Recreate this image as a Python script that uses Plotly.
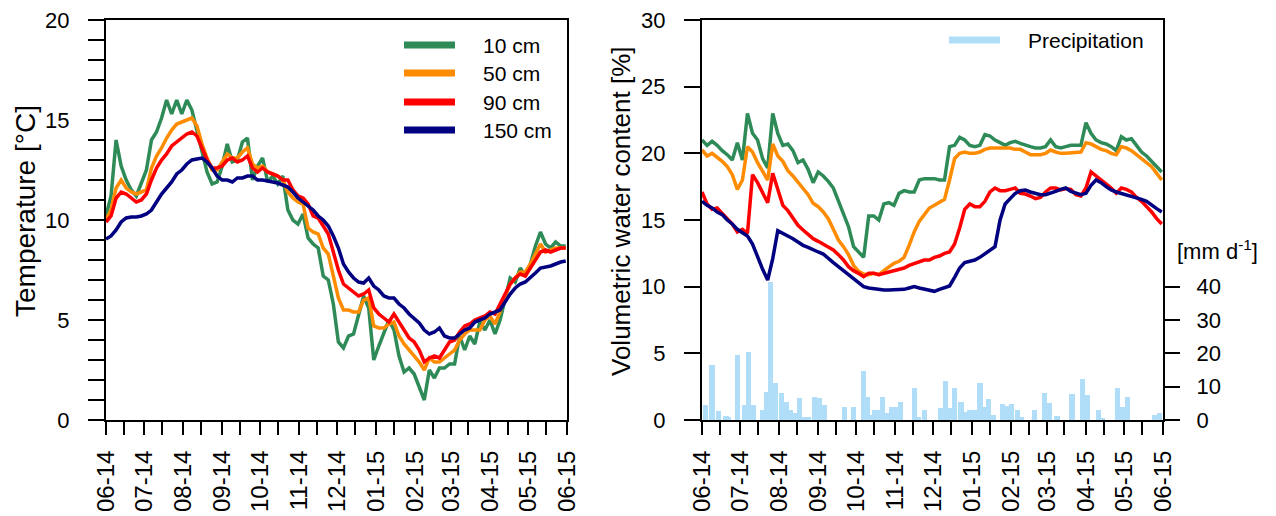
import pandas as pd
import plotly.graph_objects as go

# ---------------------------------------------------------------------------
# Data: soil temperature and volumetric water content, sampled every 4 days
# from 2014-06-01, plus daily precipitation totals.
# ---------------------------------------------------------------------------
start_date = "2014-06-01"
end_date = "2015-06-01"
sample_step = "4D"

depth_labels = ["10 cm", "50 cm", "90 cm", "150 cm"]
depth_colors = ["#2E8B57", "#FF8C00", "#FF0000", "#000080"]
precip_color = "#B0DDF8"

temp_10cm = [10.2, 11.2, 14.0, 12.7, 12.0, 11.5, 11.2, 11.9, 12.5, 14.0,
             14.4, 15.1, 16.0, 15.3, 16.0, 15.3, 16.0, 15.5, 14.5, 13.4,
             12.4, 11.8, 11.9, 12.7, 13.8, 12.9, 13.0, 13.9, 14.1, 12.0,
             12.7, 13.1, 11.9, 12.2, 11.8, 12.2, 10.5, 10.0, 9.8, 10.3,
             9.1, 8.8, 8.6, 7.2, 7.0, 5.8, 3.9, 3.6, 4.2, 4.3,
             5.3, 6.2, 5.6, 3.0, 3.7, 4.4, 5.0, 4.5, 3.2, 2.4,
             2.6, 2.3, 1.6, 1.0, 2.5, 2.1, 2.6, 2.6, 2.8, 2.8,
             4.2, 3.5, 4.2, 3.8, 4.9, 4.5, 5.0, 4.3, 5.0, 6.0,
             7.1, 6.9, 7.6, 7.2, 7.8, 8.7, 9.4, 8.8, 8.6, 8.9,
             8.7, 8.7]
temp_50cm = [10.0, 10.5, 11.6, 12.0, 11.6, 11.4, 11.3, 11.4, 11.5, 12.6,
             13.2, 13.6, 14.1, 14.5, 14.8, 14.9, 15.0, 15.1, 14.7, 13.8,
             13.1, 12.5, 12.5, 12.9, 13.3, 13.1, 13.1, 13.4, 13.6, 12.8,
             12.6, 12.7, 12.4, 12.3, 12.2, 12.0, 11.4, 11.1, 10.9, 10.8,
             9.6, 9.4, 9.3, 8.6, 8.3, 7.2, 6.1, 5.5, 5.5, 5.4,
             5.4, 6.0, 6.1, 4.7, 4.6, 4.6, 4.8, 4.9, 4.2, 3.8,
             3.5, 3.2, 2.9, 2.5, 3.1, 2.9, 2.9, 3.1, 3.3, 3.5,
             4.0, 4.3, 4.5, 4.5, 4.5, 5.0, 5.2, 4.8, 5.4, 6.2,
             6.8, 7.1, 7.4, 7.4, 7.8, 8.3, 8.8, 8.4, 8.5, 8.6,
             8.6, 8.6]
temp_90cm = [9.9, 10.2, 11.1, 11.4, 11.3, 11.1, 10.9, 11.0, 11.3, 12.0,
             12.6, 13.0, 13.3, 13.7, 13.9, 14.1, 14.3, 14.4, 14.2, 13.6,
             13.0, 12.6, 12.6, 12.7, 13.0, 13.1, 12.9, 13.0, 13.2, 12.6,
             12.4, 12.6, 12.4, 12.3, 12.2, 12.0, 12.0, 11.5, 11.2, 11.1,
             10.8, 10.2, 10.1, 9.7, 9.3, 8.4, 7.5, 6.8, 6.6, 6.4,
             6.2, 6.3, 6.5, 5.6, 5.3, 5.1, 4.9, 5.3, 4.9, 4.5,
             4.1, 3.9, 3.5, 2.9, 3.1, 3.2, 3.1, 3.5, 3.9, 4.0,
             4.4, 4.7, 4.8, 5.0, 5.1, 5.2, 5.4, 5.3, 5.8, 6.3,
             6.8, 7.1, 7.3, 7.2, 7.6, 8.0, 8.4, 8.5, 8.4, 8.5,
             8.6, 8.6]
temp_150cm = [9.05, 9.2, 9.5, 9.9, 10.1, 10.15, 10.15, 10.2, 10.3, 10.5,
              10.9, 11.3, 11.6, 11.9, 12.3, 12.5, 12.8, 13.0, 13.05, 13.1,
              12.9, 12.6, 12.2, 12.0, 12.0, 11.9, 12.1, 12.1, 12.2, 12.2,
              12.0, 12.0, 11.95, 11.9, 11.85, 11.75, 11.65, 11.4, 11.1, 10.9,
              10.7, 10.5, 10.2, 10.0, 9.7, 9.2, 8.6, 7.8, 7.4, 7.1,
              6.9, 6.85, 7.1, 6.7, 6.5, 6.2, 6.1, 6.1, 5.8, 5.6,
              5.3, 5.1, 4.85, 4.5, 4.3, 4.4, 4.6, 4.2, 4.1, 4.1,
              4.3, 4.5, 4.6, 4.9, 5.0, 5.1, 5.3, 5.4, 5.5, 5.9,
              6.3, 6.6, 6.8, 6.9, 7.1, 7.35, 7.6, 7.65, 7.7, 7.8,
              7.9, 7.95]

vwc_10cm = [21.0, 20.6, 20.9, 20.6, 20.2, 19.9, 19.5, 20.8, 19.5, 23.0,
            21.5, 21.0, 19.6, 18.9, 23.0, 21.5, 20.6, 20.7, 20.2, 19.3,
            19.5, 18.8, 17.8, 18.6, 18.3, 17.9, 17.4, 16.4, 15.4, 14.5,
            13.0, 12.6, 12.2, 15.3, 15.3, 15.0, 16.2, 16.3, 16.1, 17.0,
            17.2, 17.1, 17.1, 18.0, 18.1, 18.1, 18.1, 18.0, 18.0, 20.5,
            20.6, 21.2, 21.0, 20.6, 20.5, 20.6, 21.4, 21.3, 21.0, 20.8,
            20.6, 20.8, 20.9, 20.75, 20.6, 20.5, 20.4, 20.4, 20.5, 21.0,
            20.5, 20.4, 20.5, 20.6, 20.6, 20.6, 22.3, 21.5, 21.0, 20.8,
            20.7, 20.5, 20.2, 21.25, 21.0, 21.1, 20.6, 20.1, 19.8, 19.4,
            19.0, 18.6]
vwc_50cm = [20.25, 19.8, 20.0, 19.7, 19.4, 19.0, 18.4, 17.3, 18.0, 20.5,
            20.1, 19.3, 18.6, 18.0, 20.7, 19.8, 19.4, 18.7, 18.3, 17.8,
            17.4, 16.9, 16.25, 16.0, 15.6, 15.1, 14.3, 13.5, 13.0, 12.4,
            11.6, 11.15, 10.95, 10.9, 11.0, 10.9, 11.2, 11.5, 11.75, 11.9,
            12.2, 13.1, 14.1, 14.9, 15.4, 15.9, 16.1, 16.3, 16.55, 18.0,
            19.6, 20.0, 20.1, 20.0, 20.0, 20.1, 20.3, 20.4, 20.4, 20.4,
            20.4, 20.4, 20.3, 20.3, 20.1, 19.9, 19.9, 19.9, 20.0, 20.25,
            20.1, 20.0, 20.0, 20.05, 20.1, 20.1, 20.8, 20.7, 20.5, 20.3,
            20.2, 20.0, 19.9, 20.5, 20.4, 20.2, 19.9, 19.6, 19.3, 19.0,
            18.5, 18.0]
vwc_90cm = [17.1, 16.2, 15.8, 15.9, 15.5, 15.1, 14.7, 14.1, 14.3, 14.0,
            18.4, 17.8, 17.0, 16.3, 18.5, 17.2, 16.1, 15.7, 15.2, 14.6,
            14.25, 13.9, 13.6, 13.4, 13.2, 13.0, 12.75, 12.4, 12.0, 11.5,
            11.2, 11.0, 10.75, 11.0, 11.0, 10.9, 11.0, 11.1, 11.2, 11.25,
            11.4, 11.6, 11.75, 11.9, 12.0, 12.0, 12.2, 12.3, 12.5, 12.6,
            13.2, 14.4, 15.8, 16.2, 16.0, 16.0, 16.4, 17.1, 17.4, 17.2,
            17.2, 17.3, 17.4, 17.0, 16.95, 16.8, 16.6, 16.7, 17.1, 17.4,
            17.4, 17.25, 17.35, 17.3, 16.9, 16.8, 17.4, 18.6, 18.3, 18.0,
            17.7, 17.4, 17.0, 17.4, 17.3, 17.1, 16.7, 16.4, 16.0, 15.6,
            15.1, 14.7]
vwc_150cm = [16.4, 16.1, 15.9, 15.6, 15.4, 15.0, 14.7, 14.3, 14.05, 13.8,
             13.2, 12.2, 11.3, 10.5, 12.1, 14.2, 14.0, 13.85, 13.6, 13.35,
             13.1, 12.95, 12.75, 12.6, 12.45, 12.1, 11.8, 11.5, 11.2, 10.9,
             10.6, 10.3, 10.0, 9.9, 9.85, 9.75, 9.75, 9.75, 9.75, 9.8,
             9.8, 9.9, 10.0, 9.9, 9.8, 9.7, 9.65, 9.8, 9.9, 10.05,
             10.7, 11.4, 11.8, 11.9, 12.0, 12.2, 12.45, 12.7, 13.0, 15.0,
             16.2, 16.6, 17.0, 17.2, 17.25, 17.1, 17.0, 16.9, 16.9, 17.0,
             17.15, 17.3, 17.4, 17.15, 17.0, 16.9, 17.0, 17.6, 18.0, 17.8,
             17.5, 17.25, 17.1, 17.0, 16.9, 16.8, 16.7, 16.55, 16.4, 16.1,
             15.85, 15.6]

# Precipitation: day offset from start_date and daily total [mm]
precip_day = [3, 8, 13, 19, 21, 28, 34, 37, 41, 48, 51, 54, 58, 63, 67, 70,
              73, 77, 81, 84, 89, 93, 97, 113, 120, 128, 131, 133, 137, 139,
              143, 146, 150, 153, 157, 168, 171, 176, 189, 193, 197, 200,
              205, 208, 212, 216, 220, 224, 227, 231, 238, 241, 245, 250,
              253, 263, 271, 275, 281, 293, 301, 305, 314, 317, 329, 333,
              337, 358, 362]
precip_mm = [4.5, 16.5, 2.8, 1.2, 1.0, 19.5, 4.5, 20.5, 4.5, 3.0, 8.5, 41.5,
             11.0, 8.0, 5.5, 3.0, 2.0, 6.5, 1.0, 1.0, 7.0, 6.5, 4.5, 4.0,
             4.0, 14.8, 7.0, 1.5, 3.0, 3.0, 7.0, 2.0, 4.0, 4.0, 5.5, 9.5,
             1.0, 3.0, 3.5, 11.8, 3.5, 9.5, 5.5, 2.5, 3.0, 3.0, 11.2, 4.0,
             6.3, 1.5, 4.8, 4.2, 4.8, 3.0, 1.0, 3.0, 8.2, 5.0, 1.2, 7.8,
             12.2, 7.6, 3.0, 0.7, 9.7, 4.0, 6.8, 1.5, 2.2]

month_ticks = ["2014-06-01", "2014-07-01", "2014-08-01", "2014-09-01",
               "2014-10-01", "2014-11-01", "2014-12-01", "2015-01-01",
               "2015-02-01", "2015-03-01", "2015-04-01", "2015-05-01",
               "2015-06-01"]
month_labels = ["06-14", "07-14", "08-14", "09-14", "10-14", "11-14",
                "12-14", "01-15", "02-15", "03-15", "04-15", "05-15", "06-15"]

# ---------------------------------------------------------------------------
W, H = 1276, 516
FONT = "Liberation Sans, Arial, Helvetica, sans-serif"


def fx(px):
    return px / W


def fy(py):
    return 1 - py / H


dates = pd.date_range(start_date, periods=len(temp_10cm), freq=sample_step)
precip_dates = pd.Timestamp(start_date) + pd.to_timedelta(precip_day, unit="D")

# unlabelled mid-month ticks between the labelled month starts
mid_month_ticks = [m[:8] + "15" for m in month_ticks[:-1]]

fig = go.Figure()

temps = [temp_10cm, temp_50cm, temp_90cm, temp_150cm]
vwcs = [vwc_10cm, vwc_50cm, vwc_90cm, vwc_150cm]

fig.add_trace(go.Bar(x=precip_dates, y=precip_mm, marker_color=precip_color,
                     marker_line_width=0, width=4.2 * 86400000,
                     xaxis="x2", yaxis="y2", name="Precipitation",
                     showlegend=False))

for vals, col, lab in zip(temps, depth_colors, depth_labels):
    fig.add_trace(go.Scatter(x=dates, y=vals, mode="lines", name=lab,
                             line=dict(color=col, width=3.5),
                             xaxis="x", yaxis="y", showlegend=False))

for vals, col, lab in zip(vwcs, depth_colors, depth_labels):
    fig.add_trace(go.Scatter(x=dates, y=vals, mode="lines", name=lab,
                             line=dict(color=col, width=3.5),
                             xaxis="x2", yaxis="y3", showlegend=False))

axis_common = dict(showline=True, linewidth=2, linecolor="black",
                   ticks="outside", tickwidth=2, tickcolor="black",
                   showgrid=False, zeroline=False, automargin=False)

x_common = dict(axis_common, type="date", range=[start_date, end_date],
                tickmode="array", tickvals=month_ticks, ticktext=month_labels,
                tickangle=-90, ticklen=13, mirror=True,
                minor=dict(tickmode="array", tickvals=mid_month_ticks,
                           ticks="outside", ticklen=13, tickwidth=2,
                           tickcolor="black", showgrid=False),
                tickfont=dict(family=FONT, size=24, color="black"),
                ticklabelstandoff=6)

y_dom = [fy(420), fy(20)]

fig.update_layout(
    width=W, height=H,
    margin=dict(l=0, r=0, t=0, b=0, autoexpand=False),
    paper_bgcolor="white", plot_bgcolor="white",
    font=dict(family=FONT, color="black"),
    barmode="overlay",
    bargap=0,
    xaxis=dict(x_common, domain=[fx(106), fx(567)], anchor="y"),
    yaxis=dict(axis_common, domain=y_dom, anchor="x", range=[0, 20],
               tickmode="array", tickvals=[0, 5, 10, 15, 20],
               ticklen=16, mirror=True,
               minor=dict(dtick=1, ticks="outside", ticklen=16, tickwidth=2,
                          tickcolor="black", showgrid=False),
               tickfont=dict(family=FONT, size=22, color="black"),
               ticklabelstandoff=14),
    xaxis2=dict(x_common, domain=[fx(702), fx(1163)], anchor="y2"),
    yaxis2=dict(axis_common, domain=y_dom, anchor="x2", side="right",
                range=[0, 120], tickmode="array", tickvals=[0, 10, 20, 30, 40],
                ticklen=15,
                tickfont=dict(family=FONT, size=22, color="black"),
                ticklabelstandoff=12),
    yaxis3=dict(axis_common, overlaying="y2", anchor="x2", side="left",
                range=[0, 30], tickmode="array",
                tickvals=[0, 5, 10, 15, 20, 25, 30], ticklen=16,
                tickfont=dict(family=FONT, size=22, color="black"),
                ticklabelstandoff=14),
)

annotations = [
    dict(text="Temperature [°C]", x=fx(25), y=fy(211), textangle=-90,
         font=dict(family=FONT, size=28, color="black")),
    dict(text="Volumetric water content [%]", x=fx(621), y=fy(212),
         textangle=-90, font=dict(family=FONT, size=26, color="black")),
    dict(text="[mm d<sup>-1</sup>]", x=fx(1217), y=fy(250),
         font=dict(family=FONT, size=22, color="black")),
]

# legend: temperature panel
shapes = []
legend_rows = [45, 73, 102, 130]
for row, col, lab in zip(legend_rows, depth_colors, depth_labels):
    shapes.append(dict(type="line", xref="paper", yref="paper",
                       x0=fx(404), x1=fx(455), y0=fy(row), y1=fy(row),
                       line=dict(color=col, width=7)))
    annotations.append(dict(text=lab, x=fx(481), y=fy(row), xanchor="left",
                            font=dict(family=FONT, size=21, color="black")))

# legend: moisture panel
shapes.append(dict(type="line", xref="paper", yref="paper",
                   x0=fx(949), x1=fx(1000), y0=fy(40), y1=fy(40),
                   line=dict(color=precip_color, width=7)))
annotations.append(dict(text="Precipitation", x=fx(1026), y=fy(40),
                        xanchor="left",
                        font=dict(family=FONT, size=21, color="black")))

for a in annotations:
    a.setdefault("xref", "paper")
    a.setdefault("yref", "paper")
    a.setdefault("showarrow", False)
    a.setdefault("xanchor", "center")
    a.setdefault("yanchor", "middle")

fig.update_layout(annotations=annotations, shapes=shapes)

fig.write_html("out.html")
